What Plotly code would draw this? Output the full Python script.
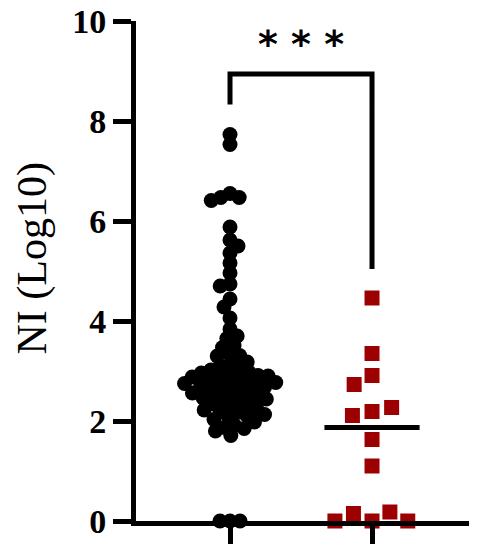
import numpy as np
import plotly.graph_objects as go

# NI (Log10) values per group
group_a = [7.73, 7.53, 6.55, 6.47, 6.47, 6.41, 5.88, 5.62, 5.50, 5.36, 5.16, 4.96,
           4.74, 4.70, 4.44, 4.28, 4.06, 3.84, 3.70, 3.65, 3.51, 3.47, 3.33, 3.31,
           3.30, 3.18, 3.12, 3.10, 3.05, 3.02, 2.98, 2.96, 2.93, 2.91, 2.90, 2.88,
           2.86, 2.84, 2.81, 2.79, 2.77, 2.75, 2.72, 2.70, 2.68, 2.67, 2.64, 2.61,
           2.59, 2.56, 2.54, 2.51, 2.49, 2.46, 2.44, 2.41, 2.38, 2.35, 2.31, 2.28,
           2.25, 2.22, 2.19, 2.17, 2.13, 2.11, 2.07, 2.03, 1.98, 1.91, 1.87, 1.85,
           1.80, 1.71, 0.0, 0.0, 0.0]
group_b = [4.46, 3.35, 2.91, 2.73, 2.19, 2.11, 2.27, 1.63, 1.10,
           0.0, 0.18, 0.15, 0.0, 0.0]
group_pos = [1, 2]
y_ticks = [0, 2, 4, 6, 8, 10]
stars = "* * *"

# page body adds an 8px margin, so the figure is 8px smaller on each side
W, H = 469, 542
M = dict(l=128, r=7, t=13, b=29)
X_RANGE = [0.338, 2.69]
Y_RANGE = [0, 10]
px_x = (W - M['l'] - M['r']) / (X_RANGE[1] - X_RANGE[0])
px_y = (H - M['t'] - M['b']) / (Y_RANGE[1] - Y_RANGE[0])


def swarm(values, center, dist):
    '''simple beeswarm: x offsets (data units) so markers keep >= dist px apart'''
    placed = []
    xs = []
    flip = 1
    for v in values:
        yp = v * px_y
        cands = [0.0]
        for (px, py) in placed:
            dy = yp - py
            if abs(dy) < dist:
                dx = np.sqrt(dist ** 2 - dy ** 2) + 0.01
                cands += [px + dx, px - dx]
        cands = sorted(set(cands), key=lambda c: (round(abs(c), 2), -flip * c))
        for c in cands:
            if all((c - px) ** 2 + (yp - py) ** 2 >= dist ** 2 - 1e-6 for px, py in placed):
                break
        placed.append((c, yp))
        xs.append(center + c / px_x)
        flip = -flip
    return xs


xa = swarm(group_a, group_pos[0], 10)
xb = swarm(group_b, group_pos[1], 20)

fig = go.Figure()
fig.add_trace(go.Scatter(x=xa, y=group_a, mode='markers', cliponaxis=False,
                         marker=dict(symbol='circle', size=15, color='black')))
fig.add_trace(go.Scatter(x=xb, y=group_b, mode='markers', cliponaxis=False,
                         marker=dict(symbol='square', size=15, color='#9c0000', line=dict(width=0))))

# median line for second group
med = float(np.median(group_b))
fig.add_trace(go.Scatter(x=[group_pos[1] - 0.335, group_pos[1] + 0.335], y=[med, med],
                         mode='lines', line=dict(color='black', width=5), cliponaxis=False))

# significance bracket
br_top, left_end, right_end = 8.94, 8.33, 5.04
fig.add_trace(go.Scatter(x=[group_pos[0], group_pos[0], group_pos[1], group_pos[1]],
                         y=[left_end, br_top, br_top, right_end], mode='lines',
                         line=dict(color='black', width=5), cliponaxis=False))
fig.add_annotation(x=np.mean(group_pos), y=9.54, text=stars, showarrow=False,
                   font=dict(family='DejaVu Sans', size=38, color='black', weight='bold'),
                   xanchor='center', yanchor='middle')

fig.add_annotation(text='NI (Log10)', textangle=-90, xref='paper', yref='paper',
                   x=-0.31, y=0.526, showarrow=False, xanchor='center', yanchor='middle',
                   font=dict(family='Liberation Serif', size=42, color='black'))

fig.update_layout(width=W, height=H, margin=M, showlegend=False,
                  plot_bgcolor='white', paper_bgcolor='white')
fig.update_xaxes(range=X_RANGE, showline=True, linecolor='black', linewidth=5,
                 ticks='outside', ticklen=18, tickwidth=5, tickcolor='black',
                 tickvals=group_pos, ticktext=['', ''], showgrid=False, zeroline=False,
                 automargin=False)
fig.update_yaxes(range=Y_RANGE, showline=True, linecolor='black', linewidth=5,
                 ticks='outside', ticklen=18, tickwidth=5, tickcolor='black',
                 tickvals=y_ticks, showgrid=False, zeroline=False, automargin=False,
                 ticklabeloverflow='allow',
                 tickfont=dict(family='Liberation Serif', size=34, color='black', weight='bold'))

fig.write_html("out.html")
